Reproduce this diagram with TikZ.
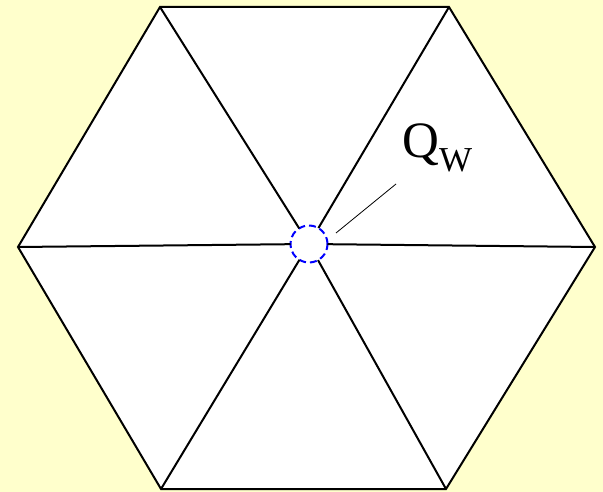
\documentclass[tikz,border=0pt]{standalone}
\usepackage{fontspec}
\setmainfont{Liberation Serif}
\usetikzlibrary{positioning,calc}
\definecolor{paleyellow}{RGB}{255,255,204}

\begin{document}
\begin{tikzpicture}[
    x=1pt, y=-1pt,
    corner/.style={coordinate},
    edge/.style={line width=2pt, line join=miter},
    spoke/.style={line width=2pt},
    well/.style={draw=blue, dashed, dash pattern=on 7pt off 4pt, line width=2pt, circle, minimum size=37pt, inner sep=0pt, outer sep=0pt},
    leader/.style={line width=0.8pt}
]
\fill[paleyellow] (0,0) rectangle (603,492);
\coordinate[corner] (p1) at (160,7);
\coordinate[corner] (p2) at (449,7);
\coordinate[corner] (p3) at (595,247);
\coordinate[corner] (p4) at (446,489);
\coordinate[corner] (p5) at (161,489);
\coordinate[corner] (p6) at (18,247);
\filldraw[edge, fill=white] (p1) -- (p2) -- (p3) -- (p4) -- (p5) -- (p6) -- cycle;
\node[well] (qw) at (309,244) {};
\foreach \p in {p1,p2,p3,p4,p5,p6}
    \draw[spoke] (\p) -- (qw);
\node[anchor=base west, inner sep=0pt] (lbl) at (402,158)
    {\fontsize{51}{51}\selectfont Q\raisebox{-14pt}{\fontsize{35}{35}\selectfont W}};
\coordinate (tip) at (396,184);
\coordinate (foot) at (336,233);
\draw[leader] (tip) -- (foot);
\end{tikzpicture}
\end{document}
